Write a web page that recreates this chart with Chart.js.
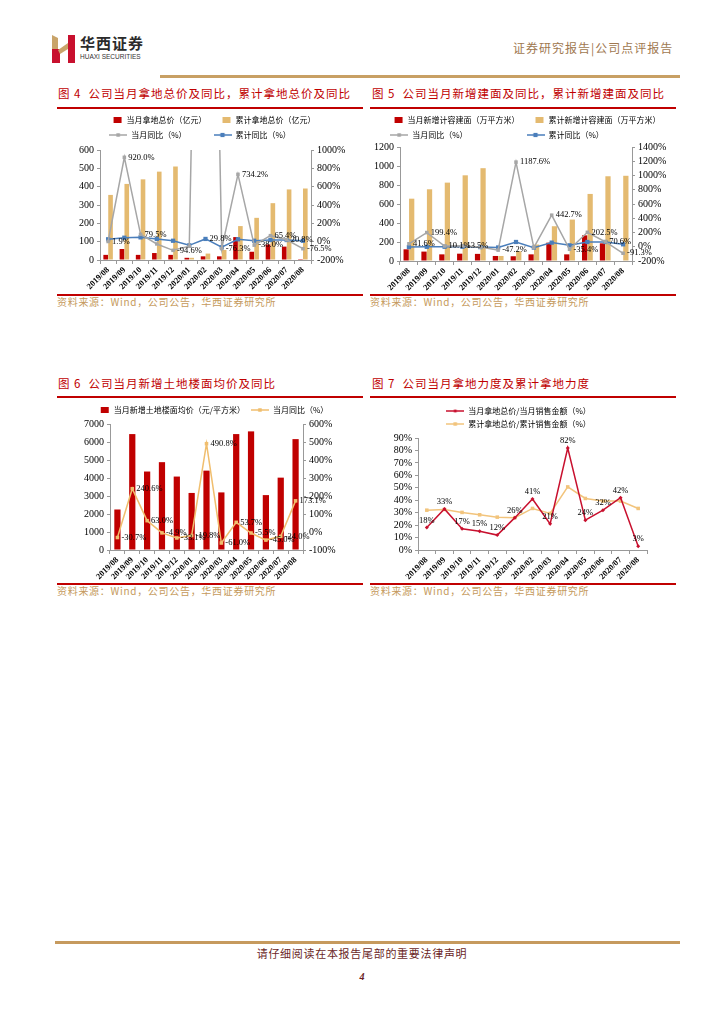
<!DOCTYPE html>
<html>
<head>
<meta charset="utf-8">
<script src="https://cdn.jsdelivr.net/npm/chart.js@4.4.0/dist/chart.umd.min.js"></script>
<style>
body { margin: 0; width: 724px; height: 1024px; background: #fff; position: relative; overflow: hidden; font-family: 'Noto Sans CJK SC', sans-serif; }
.abs { position: absolute; white-space: nowrap; }
.title { position: absolute; color: #c00000; font-size: 11.5px; letter-spacing: 1px; line-height: 14px; white-space: nowrap; }
.rule { position: absolute; height: 2px; background: #c00000; }
.src { position: absolute; color: #c59a5c; font-size: 10px; letter-spacing: 0.7px; line-height: 12px; white-space: nowrap; }
.box { position: absolute; }
canvas { display: block; }
</style>
</head>
<body>

<!-- header -->
<div class="abs" style="left:50px;top:34px">
  <svg width="28" height="30" viewBox="0 0 28 30">
    <polygon points="2,1 8,4 8,29 2,29" fill="#c9a46a"/>
    <polygon points="2,15 10,15 10,29 2,29" fill="#c8102e"/>
    <polygon points="18,1 25,1 25,29 18,29" fill="#c8102e"/>
    <polygon points="8,16 18,9 18,15 10,20" fill="#c9a46a"/>
  </svg>
</div>
<div class="abs" style="left:80px;top:34px;font-size:15px;font-weight:bold;letter-spacing:1px;color:#2b2b2b;line-height:18px">华西证券</div>
<div class="abs" style="left:80px;top:53px;font-size:6.5px;font-family:'Liberation Sans',sans-serif;color:#333;line-height:8px">HUAXI SECURITIES</div>
<div class="abs" style="left:513px;top:41px;font-size:12px;letter-spacing:1px;color:#a07850;line-height:14px">证券研究报告|公司点评报告</div>
<div class="abs" style="left:160px;top:75px;width:520px;height:3px;background:#c8a064"></div>

<!-- row 1 titles -->
<div class="title" style="left:58px;top:86px">图 4&nbsp;&nbsp;公司当月拿地总价及同比，累计拿地总价及同比</div>
<div class="title" style="left:372px;top:86px">图 5&nbsp;&nbsp;公司当月新增建面及同比，累计新增建面及同比</div>
<div class="rule" style="left:57px;top:107px;width:306px"></div>
<div class="rule" style="left:370px;top:107px;width:306px"></div>

<div class="box" style="left:57px;top:109px"><canvas id="c4" width="306" height="184"></canvas></div>
<div class="box" style="left:370px;top:109px"><canvas id="c5" width="306" height="184"></canvas></div>

<div class="rule" style="left:57px;top:294px;width:306px;height:1.5px"></div>
<div class="rule" style="left:370px;top:294px;width:306px;height:1.5px"></div>
<div class="src" style="left:57px;top:296px">资料来源：Wind，公司公告，华西证券研究所</div>
<div class="src" style="left:370px;top:296px">资料来源：Wind，公司公告，华西证券研究所</div>

<!-- row 2 titles -->
<div class="title" style="left:58px;top:376px">图 6&nbsp;&nbsp;公司当月新增土地楼面均价及同比</div>
<div class="title" style="left:372px;top:376px">图 7&nbsp;&nbsp;公司当月拿地力度及累计拿地力度</div>
<div class="rule" style="left:57px;top:396px;width:306px"></div>
<div class="rule" style="left:370px;top:396px;width:306px"></div>

<div class="box" style="left:57px;top:400px"><canvas id="c6" width="306" height="183"></canvas></div>
<div class="box" style="left:370px;top:402px"><canvas id="c7" width="306" height="181"></canvas></div>

<div class="rule" style="left:57px;top:583px;width:306px;height:1.5px"></div>
<div class="rule" style="left:370px;top:583px;width:306px;height:1.5px"></div>
<div class="src" style="left:57px;top:585px">资料来源：Wind，公司公告，华西证券研究所</div>
<div class="src" style="left:370px;top:585px">资料来源：Wind，公司公告，华西证券研究所</div>

<!-- footer -->
<div class="abs" style="left:55px;top:941px;width:625px;height:3px;background:#c69a5e"></div>
<div class="abs" style="left:0;width:724px;top:946px;text-align:center;font-size:11px;letter-spacing:0.7px;color:#6b1f1f;line-height:14px">请仔细阅读在本报告尾部的重要法律声明</div>
<div class="abs" style="left:0;width:724px;top:971px;text-align:center;font-size:10px;font-weight:bold;font-style:italic;font-family:'Liberation Serif',serif;color:#6b1f1f">4</div>

<script>
const SERIF = "'Liberation Serif', 'Times New Roman', serif";
const CJK = "'Noto Sans CJK SC', sans-serif";

const months = ['2019/08', '2019/09', '2019/10', '2019/11', '2019/12', '2020/01', '2020/02',
                '2020/03', '2020/04', '2020/05', '2020/06', '2020/07', '2020/08'];

// 图4 拿地总价（亿元）及同比（%）
const landMonth = [28, 60, 28, 38, 28, 12, 20, 20, 125, 45, 85, 73, 5];
const landCum = [355, 415, 440, 482, 510, 12, 35, 55, 185, 230, 310, 385, 390];
const landMonthYoy = [1.9, 920.0, 79.5, -25.0, -94.6, -50.0, 9000.0, -76.3, 734.2, -38.0, 65.4, 20.8, -76.5];
const landCumYoy = [26.0, 43.0, 47.0, 29.0, 10.0, -40.0, 29.8, -61.0, 26.0, 10.0, 18.0, 18.0, 10.0];

// 图5 新增计容建面（万平方米）及同比（%）
const areaMonth = [123, 99, 70, 77, 75, 53, 50, 70, 193, 70, 270, 186, 5];
const areaCum = [656, 755, 825, 902, 977, 53, 103, 173, 366, 436, 706, 892, 897];
const areaMonthYoy = [41.6, 199.4, 10.1, 13.5, -5.0, -47.2, 1187.6, -12.0, 442.7, -35.4, 202.5, 70.6, -91.3];
const areaCumYoy = [-4.0, -1.0, 0.0, 0.0, -5.0, -10.0, 67.0, -12.0, 58.0, 20.0, 67.0, 67.0, 34.0];

// 图6 新增土地楼面均价（元/平方米）及同比（%）
const floorPrice = [2250, 6440, 4360, 4880, 4080, 3170, 4410, 3200, 6440, 6590, 3050, 4020, 6160];
const floorPriceYoy = [-30.7, 240.6, 63.0, -4.9, -33.1, -19.8, 490.8, -61.0, 53.7, -5.5, -45.0, -24.0, 173.1];

// 图7 拿地力度（%）
const ratioMonth = [18, 33, 17, 15, 12, 26, 41, 21, 82, 24, 32, 42, 3];
const ratioCum = [32.0, 32.6, 30.2, 28.3, 26.4, 26.0, 33.4, 29.4, 50.7, 41.4, 39.3, 39.3, 33.4];

const RED = '#c00000';
const TAN = '#e4ba70';
const GRAY = '#a6a6a6';
const BLUE = '#4a7ebb';
const ORANGE = '#f0be6e';

Chart.defaults.font.family = SERIF;
Chart.defaults.color = '#000';

// small legend icons
function boxIcon(color) {
    const c = document.createElement('canvas');
    c.width = 18; c.height = 8;
    const g = c.getContext('2d');
    g.fillStyle = color;
    g.fillRect(9, 1, 8, 6);
    return c;
}
function lineIcon(color, size) {
    const c = document.createElement('canvas');
    c.width = 18; c.height = 8;
    const g = c.getContext('2d');
    g.strokeStyle = color; g.lineWidth = 1.5;
    g.beginPath(); g.moveTo(0, 4); g.lineTo(18, 4); g.stroke();
    g.fillStyle = color;
    g.fillRect(9 - size / 2, 4 - size / 2, size, size);
    return c;
}

// legend items in dataset order; padded to equal length so the rows line up in columns
function legendItems(chart) {
    const items = Chart.defaults.plugins.legend.labels.generateLabels(chart);
    const longest = Math.max(...items.map(it => it.text.length));
    items.forEach(it => {
        it.pointStyle = chart.data.datasets[it.datasetIndex].legendIcon;
        if (chart.options.plugins.legend.columns) it.text = it.text.padEnd(longest, '\u3000');
    });
    return items.sort((a, b) => a.datasetIndex - b.datasetIndex);
}

function legend(pad, columns) {
    return {
        position: 'top',
        columns: columns,
        labels: {
            usePointStyle: true, pointStyleWidth: 18, padding: pad,
            font: { family: CJK, size: 8 }, color: '#000',
            generateLabels: legendItems
        }
    };
}

// keep the legend box at a fixed height so the plot area lines up
const fixLegend = {
    id: 'fixLegend',
    beforeLayout(chart, args, opts) {
        const lg = chart.legend;
        if (lg && !lg._fixed && opts.height) {
            const fit = lg.fit.bind(lg);
            lg.fit = function () { fit(); this.height = opts.height; };
            lg._fixed = true;
        }
    }
};

// value labels next to points
const pointLabels = {
    id: 'pointLabels',
    afterDatasetsDraw(chart) {
        const { ctx, chartArea } = chart;
        chart.data.datasets.forEach((ds, i) => {
            if (!ds.labelAt) return;
            const meta = chart.getDatasetMeta(i);
            ctx.save();
            ctx.font = '8.5px ' + SERIF;
            ctx.fillStyle = '#000';
            ds.labelAt.forEach(idx => {
                const pt = meta.data[idx];
                if (!pt || pt.y < chartArea.top - 1 || pt.y > chartArea.bottom + 1) return;
                const txt = ds.data[idx].toFixed(ds.labelDigits) + '%';
                if (ds.labelPos === 'above') {
                    ctx.textAlign = 'center'; ctx.textBaseline = 'bottom';
                    ctx.fillText(txt, pt.x, pt.y - 3);
                } else {
                    ctx.textAlign = 'left'; ctx.textBaseline = 'middle';
                    ctx.fillText(txt, pt.x + 4, pt.y);
                }
            });
            ctx.restore();
        });
    }
};

function yAxis(position, min, max, step, width, suffix) {
    return {
        position: position, min: min, max: max,
        ticks: {
            stepSize: step, autoSkip: false, color: '#000', padding: 3,
            font: { family: SERIF, size: 10 },
            callback: v => v + suffix
        },
        grid: { drawOnChartArea: false, drawTicks: true, tickLength: 3, color: '#999' },
        border: { color: '#999' },
        afterFit: s => { s.width = width; }
    };
}

function xAxis(height) {
    return {
        offset: true,
        ticks: {
            minRotation: 45, maxRotation: 45, autoSkip: false, padding: 1,
            color: '#000', font: { family: SERIF, size: 8.5, weight: 'bold' }
        },
        grid: { offset: true, drawOnChartArea: false, tickLength: 4, color: '#999' },
        border: { color: '#999' },
        afterFit: s => { s.height = height; }
    };
}

function barSet(label, data, color, catPct) {
    return {
        type: 'bar', label: label, data: data, backgroundColor: color,
        yAxisID: 'y', order: 1, barPercentage: 0.95, categoryPercentage: catPct,
        legendIcon: boxIcon(color)
    };
}

function lineSet(label, data, color, radius, extra) {
    return Object.assign({
        type: 'line', label: label, data: data, yAxisID: 'y1', order: 0,
        borderColor: color, backgroundColor: color, borderWidth: 1.5,
        pointStyle: 'rect', pointRadius: radius, pointBorderWidth: 0,
        pointBackgroundColor: color, tension: 0, fill: false,
        legendIcon: lineIcon(color, radius * 1.4)
    }, extra || {});
}

function baseOptions(legendPad, legendHeight, padding, columns) {
    return {
        responsive: false,
        animation: false,
        layout: { padding: padding },
        plugins: {
            legend: legend(legendPad, columns),
            tooltip: { enabled: false },
            fixLegend: { height: legendHeight }
        }
    };
}

// 图4
const opt4 = baseOptions(7, 41, { left: 10, right: 10 }, true);
opt4.scales = {
    x: xAxis(33),
    y: yAxis('left', 0, 600, 100, 33, ''),
    y1: yAxis('right', -200, 1000, 200, 42, '%')
};
new Chart(document.getElementById('c4'), {
    data: {
        labels: months,
        datasets: [
            barSet('当月拿地总价（亿元）', landMonth, RED, 0.6),
            barSet('累计拿地总价（亿元）', landCum, TAN, 0.6),
            lineSet('当月同比（%）', landMonthYoy, GRAY, 2.5,
                { labelAt: [0, 1, 2, 4, 7, 8, 9, 10, 11, 12], labelDigits: 1 }),
            lineSet('累计同比（%）', landCumYoy, BLUE, 3,
                { labelAt: [6], labelDigits: 1 })
        ]
    },
    options: opt4,
    plugins: [fixLegend, pointLabels]
});

// 图5
const opt5 = baseOptions(7, 38, { left: 0, right: 0 }, true);
opt5.scales = {
    x: xAxis(32),
    y: yAxis('left', 0, 1200, 200, 30, ''),
    y1: yAxis('right', -200, 1400, 200, 44, '%')
};
new Chart(document.getElementById('c5'), {
    data: {
        labels: months,
        datasets: [
            barSet('当月新增计容建面（万平方米）', areaMonth, RED, 0.62),
            barSet('累计新增计容建面（万平方米）', areaCum, TAN, 0.62),
            lineSet('当月同比（%）', areaMonthYoy, GRAY, 2.5,
                { labelAt: [0, 1, 2, 3, 5, 6, 8, 9, 10, 11, 12], labelDigits: 1 }),
            lineSet('累计同比（%）', areaCumYoy, BLUE, 3)
        ]
    },
    options: opt5,
    plugins: [fixLegend, pointLabels]
});

// 图6
const opt6 = baseOptions(6, 24, { left: 0, right: 0 }, false);
opt6.scales = {
    x: xAxis(33),
    y: yAxis('left', 0, 7000, 1000, 53, ''),
    y1: yAxis('right', -100, 600, 100, 60, '%')
};
new Chart(document.getElementById('c6'), {
    data: {
        labels: months,
        datasets: [
            Object.assign(barSet('当月新增土地楼面均价（元/平方米）', floorPrice, RED, 0.42), { barPercentage: 1 }),
            lineSet('当月同比（%）', floorPriceYoy, ORANGE, 2.5,
                { labelAt: months.map((m, i) => i), labelDigits: 1 })
        ]
    },
    options: opt6,
    plugins: [fixLegend, pointLabels]
});

// 图7
const opt7 = baseOptions(5, 36, { left: 20, right: 29 }, false);
opt7.scales = {
    x: xAxis(33),
    y: yAxis('left', 0, 90, 10, 28, '%')
};
new Chart(document.getElementById('c7'), {
    type: 'line',
    data: {
        labels: months,
        datasets: [
            lineSet('当月拿地总价/当月销售金额（%）', ratioMonth, '#c8102e', 2,
                { yAxisID: 'y', pointStyle: 'rectRot', labelAt: months.map((m, i) => i), labelDigits: 0, labelPos: 'above' }),
            lineSet('累计拿地总价/累计销售金额（%）', ratioCum, '#f2c47c', 2.5, { yAxisID: 'y', order: 1 })
        ]
    },
    options: opt7,
    plugins: [fixLegend, pointLabels]
});
</script>
</body>
</html>
